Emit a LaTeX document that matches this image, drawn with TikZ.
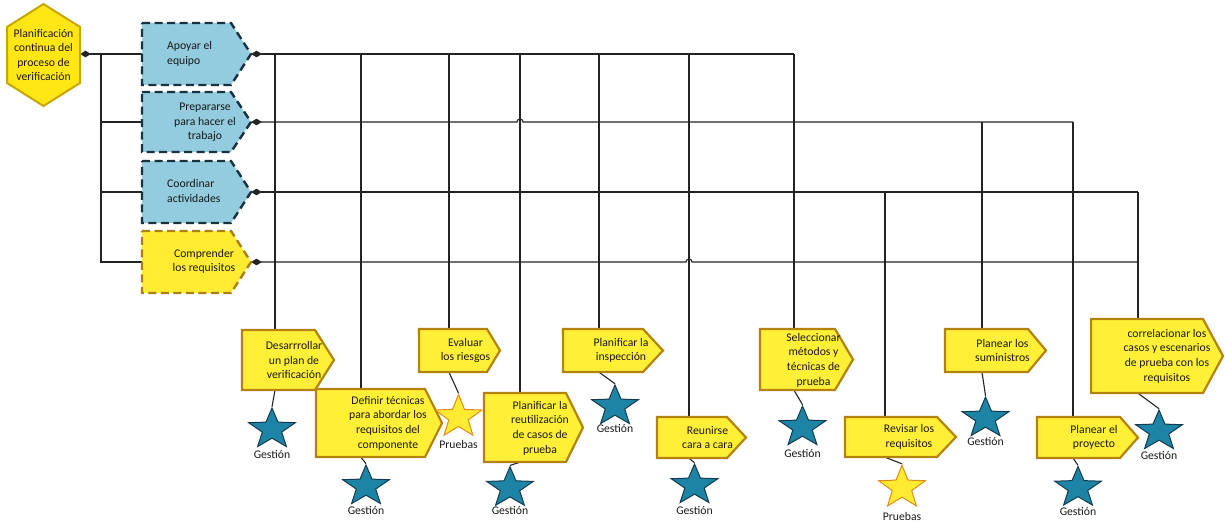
\documentclass[tikz,border=0pt]{standalone}
\usepackage{fontspec}
\setmainfont{Carlito}
\usetikzlibrary{shapes.geometric,arrows.meta,backgrounds}

\definecolor{linec}{RGB}{35,35,35}
\definecolor{textc}{RGB}{25,25,25}
\definecolor{taskfill}{RGB}{255,240,55}
\definecolor{taskline}{RGB}{180,130,15}
\definecolor{hexfill}{RGB}{255,230,20}
\definecolor{hexline}{RGB}{200,165,0}
\definecolor{bluefill}{RGB}{146,204,222}
\definecolor{blueline}{RGB}{25,50,65}
\definecolor{goalfill}{RGB}{255,236,50}
\definecolor{goalline}{RGB}{170,128,20}
\definecolor{gfill}{RGB}{30,132,165}
\definecolor{gline}{RGB}{20,60,80}
\definecolor{pfill}{RGB}{255,236,50}
\definecolor{pline}{RGB}{225,140,25}

\tikzset{
  conn/.style={draw=linec, line width=1.1pt},
  src/.style={conn, {Diamond[length=11pt,width=6.5pt]}-},
  taskbox/.style={fill=taskfill, draw=taskline, line width=2.2pt, line join=miter},
  bluebox/.style={fill=bluefill, draw=blueline, line width=2.4pt, dash pattern=on 8pt off 4.5pt},
  goalbox/.style={fill=goalfill, draw=goalline, line width=2.4pt, dash pattern=on 8pt off 4.5pt},
  hexshape/.style={fill=hexfill, draw=hexline, line width=2pt, line join=miter},
  txt/.style={font=\fontsize{11.7}{14.6}\selectfont, text=textc, align=center, inner sep=0pt},
  starbase/.style={star, star points=5, star point ratio=2.4, minimum size=49pt,
    inner sep=0pt, line width=1pt, transform shape},
  gstar/.style={starbase, fill=gfill, draw=gline, yscale=0.87},
  pstar/.style={starbase, fill=pfill, draw=pline, yscale=0.92},
}

% task shape: name, style, left, top, body right, bottom, tip x, text node options, text
\newcommand\flowtask[9]{%
  \path[#2] (#3,#4) -- (#5,#4) -- (#7,{(#4+#6)/2}) -- (#5,#6) -- (#3,#6) -- cycle;
  \node[inner sep=0pt, minimum width={#5-#3}, minimum height={#6-#4}]
    (#1) at ({(#3+#5)/2},{(#4+#6)/2}) {};
  \coordinate (#1-tip) at (#7,{(#4+#6)/2});
  \node[txt, #8] (#1-t) {#9};
}

% star with its caption: name, style, centre x, centre y, caption, caption y
\newcommand\flowstar[6]{%
  \begin{scope}[shift={(#3,#4)}]
    \node[#2] (#1) at (0,0) {};
  \end{scope}
  \node[txt] (#1-l) at (#3,#6) {#5};
}

\begin{document}
\begin{tikzpicture}[x=1pt,y=-1pt]
\useasboundingbox (0,0) rectangle (1225,524);

% root process
\path[hexshape] (43.5,4) -- (80,27) -- (80,83) -- (43.5,106) -- (7,83) -- (7,27) -- cycle;
\node[txt] (hex) at (43.5,55) {Planificación\\continua del\\proceso de\\verificación};
\coordinate (hex-e) at (80,54);

% sub-processes
\flowtask{apoyar}{bluebox}{142}{23}{231}{85}{251}{at={(167,54)},anchor=west,align=left}{Apoyar el\\equipo}
\flowtask{preparar}{bluebox}{142}{92}{231}{152}{251}{at={(205,122.5)}}{Prepararse\\para hacer el\\trabajo}
\flowtask{coordinar}{bluebox}{142}{161}{231}{223}{251}{at={(167,191)},anchor=west,align=left}{Coordinar\\actividades}
\flowtask{comprender}{goalbox}{142}{231}{231}{293}{251}{at={(204,261.5)}}{Comprender\\los requisitos}

% activities
\flowtask{b1}{taskbox}{242}{330}{315}{390}{334}{at={(294,360)}}{Desarrrollar\\un plan de\\verificación}
\flowtask{b2}{taskbox}{316}{389}{425}{457}{442}{at={(388,423)}}{Definir técnicas\\para abordar los\\requisitos del\\componente}
\flowtask{b3}{taskbox}{419}{329}{487}{372}{500}{at={(465.5,350.5)}}{Evaluar\\los riesgos}
\flowtask{b4}{taskbox}{484}{393}{566}{462}{583}{at={(540,428)}}{Planificar la\\reutilización\\de casos de\\prueba}
\flowtask{b5}{taskbox}{563}{329}{643}{372}{663}{at={(621,350.5)}}{Planificar la\\inspección}
\flowtask{b6}{taskbox}{657}{417}{727}{458}{746}{at={(707.5,437.5)}}{Reunirse\\cara a cara}
\flowtask{b7}{taskbox}{760}{329}{835}{390}{853}{at={(813.5,360)}}{Seleccionar\\métodos y\\técnicas de\\prueba}
\flowtask{b8}{taskbox}{845}{417}{937}{457}{956}{at={(909,437)}}{Revisar los\\requisitos}
\flowtask{b9}{taskbox}{945}{329}{1028}{372}{1046}{at={(1002.5,350.5)}}{Planear los\\suministros}
\flowtask{b10}{taskbox}{1037}{417}{1120}{458}{1138}{at={(1094,437.5)}}{Planear el\\proyecto}
\flowtask{b11}{taskbox}{1091}{319}{1203}{393}{1223}{at={(1167,356)}}{correlacionar los\\casos y escenarios\\de prueba con los\\requisitos}

% resources
\flowstar{s1}{gstar}{272}{429.3}{Gestión}{454}
\flowstar{s2}{gstar}{366}{486.3}{Gestión}{510}
\flowstar{s3}{pstar}{458.5}{417}{Pruebas}{444}
\flowstar{s4}{gstar}{510}{488}{Gestión}{510}
\flowstar{s5}{gstar}{615}{406.3}{Gestión}{428}
\flowstar{s6}{gstar}{694.5}{485.3}{Gestión}{510}
\flowstar{s7}{gstar}{802.5}{427.3}{Gestión}{453}
\flowstar{s8}{pstar}{902}{487.7}{Pruebas}{516.5}
\flowstar{s9}{gstar}{985.5}{418.3}{Gestión}{441.7}
\flowstar{s10}{gstar}{1078}{487.8}{Gestión}{511.7}
\flowstar{s11}{gstar}{1159}{431.3}{Gestión}{455.7}

% bus taps
\coordinate (tap1) at (275,54);
\coordinate (tap2) at (361,54);
\coordinate (tap3) at (449,54);
\coordinate (tap4) at (520,54);
\coordinate (tap5) at (599,54);
\coordinate (tap6) at (689,54);
\coordinate (tap7) at (794,54);
\coordinate (tap8) at (885,192);
\coordinate (tap9) at (982,122);
\coordinate (tap10) at (1073,122);
\coordinate (tap11) at (1138,192);
\coordinate (trunk) at (101,54);

\begin{scope}[on background layer]
  % root to sub-processes
  \draw[src] (hex-e) -- (apoyar.west);
  \draw[conn] (trunk) |- (comprender.west);
  \draw[conn] (trunk |- preparar.west) -- (preparar.west);
  \draw[conn] (trunk |- coordinar.west) -- (coordinar.west);

  % buses
  \draw[src] (apoyar-tip) -- (tap7);
  \draw[src] (preparar-tip) -- (517,122) arc[start angle=180,end angle=0,radius=3pt] -- (tap10);
  \draw[src] (coordinar-tip) -- (tap11);
  \draw[src] (comprender-tip) -- (686,262) arc[start angle=180,end angle=0,radius=3pt]
    -- (tap11 |- comprender-tip);

  % drops to activities and resources
  \foreach \i in {1,...,11} {
    \draw[conn] (tap\i) -- (tap\i |- b\i.north);
    \draw[conn] (tap\i |- b\i.south) -- (s\i.north);
  }
\end{scope}
\end{tikzpicture}
\end{document}
